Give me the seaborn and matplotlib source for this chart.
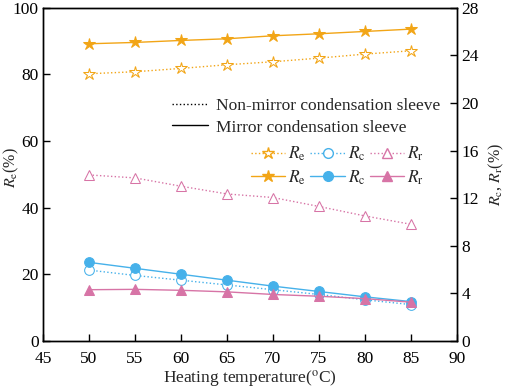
import numpy as np
import pandas as pd
import seaborn as sns
import matplotlib.pyplot as plt
from matplotlib.lines import Line2D

temps = [50, 55, 60, 65, 70, 75, 80, 85]

# left axis: Re (%)
re_nonmirror = [80.2, 80.8, 81.8, 82.9, 83.8, 84.9, 86.1, 87.1]
re_mirror = [89.2, 89.6, 90.2, 90.7, 91.6, 92.2, 92.9, 93.6]

# right axis: Rc, Rr (%)
rc_nonmirror = [5.95, 5.5, 5.1, 4.7, 4.3, 3.9, 3.45, 3.05]
rc_mirror = [6.6, 6.1, 5.6, 5.1, 4.6, 4.15, 3.7, 3.3]
rr_nonmirror = [13.95, 13.7, 13.0, 12.35, 12.05, 11.3, 10.5, 9.8]
rr_mirror = [4.3, 4.33, 4.25, 4.12, 3.9, 3.75, 3.55, 3.25]

orange = '#F2A516'
blue = '#46B1EA'
pink = '#D774A6'

sns.set_style('ticks')
plt.rcParams['font.family'] = ['Liberation Serif', 'DejaVu Serif']
plt.rcParams['mathtext.fontset'] = 'stix'
plt.rcParams['font.size'] = 12.5
plt.rcParams['xtick.direction'] = 'in'
plt.rcParams['ytick.direction'] = 'in'

fig, ax = plt.subplots(figsize=(5.05, 3.9), dpi=100)
fig.subplots_adjust(left=0.085, right=0.905, bottom=0.126, top=0.98)
ax2 = ax.twinx()

ms = 7
lw = 1.0
sns.lineplot(x=temps, y=re_nonmirror, ax=ax, color=orange, linestyle=':', marker='*',
             markersize=ms + 2, markerfacecolor='white', markeredgecolor=orange, lw=lw)
sns.lineplot(x=temps, y=re_mirror, ax=ax, color=orange, linestyle='-', marker='*',
             markersize=ms + 2, markerfacecolor=orange, markeredgecolor=orange, lw=lw)

series = [
    (rc_nonmirror, blue, 'o', ':', 'white'),
    (rc_mirror, blue, 'o', '-', blue),
    (rr_nonmirror, pink, '^', ':', 'white'),
    (rr_mirror, pink, '^', '-', pink),
]
for vals, c, m, ls, fc in series:
    sns.lineplot(x=temps, y=vals, ax=ax2, color=c, linestyle=ls, marker=m,
                 markersize=ms, markerfacecolor=fc, markeredgecolor=c, lw=lw)

ax.set_xlim(45, 90)
ax.set_ylim(0, 100)
ax2.set_ylim(0, 28)
ax.set_xticks(range(45, 91, 5))
ax.set_yticks(range(0, 101, 20))
ax2.set_yticks(range(0, 29, 4))
ax.set_xlabel('Heating temperature($\\mathrm{^{o}}$C)', labelpad=1)
ax.set_ylabel('$R_{\\mathrm{e}}$(%)', fontsize=11.5)
ax.yaxis.set_label_coords(-0.052, 0.52)
ax2.set_ylabel('$R_{\\mathrm{c}}$, $R_{\\mathrm{r}}$(%)', rotation=90, fontsize=11.5)
ax2.yaxis.set_label_coords(1.072, 0.5)
for a in (ax, ax2):
    for s in a.spines.values():
        s.set_linewidth(1.0)
        s.set_color('black')
    a.tick_params(length=5, width=1, colors='black', labelsize=12.5, pad=3)
ax.tick_params(axis='x', pad=7)

# line-style legend
style_handles = [Line2D([], [], color='black', linestyle=':', lw=1),
                 Line2D([], [], color='black', linestyle='-', lw=1)]
leg1 = ax2.legend(style_handles, ['Non-mirror condensation sleeve', 'Mirror condensation sleeve'],
                  loc='upper left', bbox_to_anchor=(0.295, 0.75), frameon=False,
                  handlelength=2.1, handletextpad=0.45, labelspacing=0.3, fontsize=12.5,
                  borderaxespad=0)
ax2.add_artist(leg1)

def h(c, m, ls, fc, size):
    return Line2D([], [], color=c, linestyle=ls, marker=m, markersize=size,
                  markerfacecolor=fc, markeredgecolor=c, lw=lw)

handles = [h(orange, '*', ':', 'white', ms + 2), h(orange, '*', '-', orange, ms + 2),
           h(blue, 'o', ':', 'white', ms), h(blue, 'o', '-', blue, ms),
           h(pink, '^', ':', 'white', ms), h(pink, '^', '-', pink, ms)]
labels = ['$R_{\\mathrm{e}}$', '$R_{\\mathrm{e}}$', '$R_{\\mathrm{c}}$',
          '$R_{\\mathrm{c}}$', '$R_{\\mathrm{r}}$', '$R_{\\mathrm{r}}$']
ax2.legend(handles, labels, ncol=3, loc='upper left', bbox_to_anchor=(0.485, 0.61),
           frameon=False, handlelength=2.0, handletextpad=0.15, columnspacing=0.25,
           labelspacing=0.3, fontsize=12.5, borderaxespad=0)

fig.savefig('out.png', dpi=100)
